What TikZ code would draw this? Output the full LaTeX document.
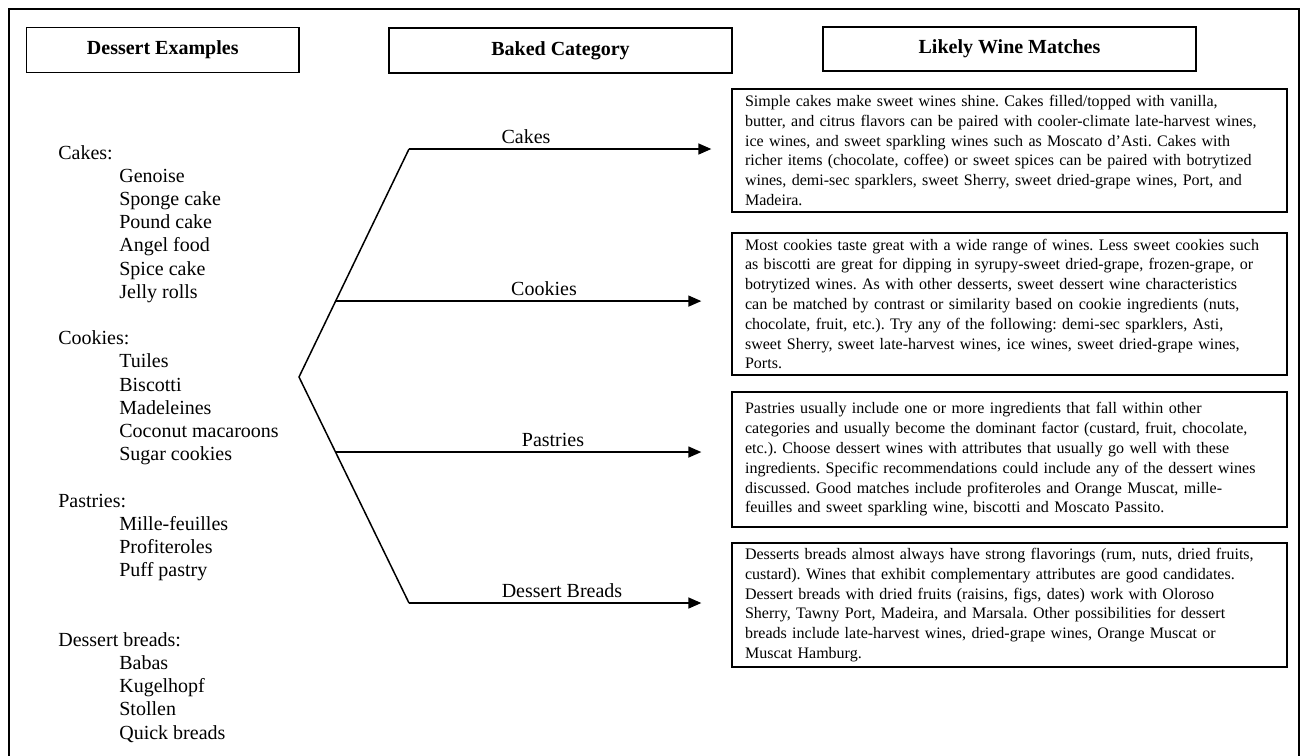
\documentclass[tikz,border=0pt]{standalone}
\usepackage{fontspec}
\setmainfont{Liberation Serif}
\usetikzlibrary{arrows.meta,calc}
\frenchspacing

\begin{document}
\begin{tikzpicture}[x=0.02cm, y=-0.02cm,
    hdr/.style={draw, line width=0.03cm, minimum height=0.9cm, inner sep=0pt,
        font=\fontsize{11.38pt}{13pt}\selectfont\bfseries},
    winebox/.style={draw, line width=0.03cm, minimum width=11.1cm, text width=10.58cm,
        inner xsep=0.26cm, inner ysep=0pt, align=left,
        font=\fontsize{9.12pt}{11.27pt}\selectfont},
    listtxt/.style={anchor=base west, inner sep=0pt, font=\fontsize{11.38pt}{13pt}\selectfont},
    catlabel/.style={above, inner sep=0.1cm, font=\fontsize{11.38pt}{13pt}\selectfont},
    arr/.style={line width=0.03cm, -{Triangle[length=0.26cm, width=0.22cm]}}]

    \useasboundingbox (0,0) rectangle (1304,755);

    % outer frame, open at the bottom edge
    \draw[line width=0.03cm] (9,760) -- (9,9) -- (1299,9) -- (1299,760);

    % column headings
    \node[hdr, minimum width=5.45cm] (hdrDessert) at (162.75,50) {Dessert Examples};
    \node[hdr, minimum width=6.86cm] (hdrCategory) at (560.5,50.5) {Baked Category};
    \node[hdr, minimum width=7.46cm, minimum height=0.88cm] (hdrWine) at (1009.5,49) {Likely Wine Matches};

    % dessert examples
    \node[listtxt] (grpCakes) at (58,159) {Cakes:};
    \foreach \dish [count=\k from 1] in {Genoise, Sponge cake, Pound cake, Angel food, Spice cake, Jelly rolls}
        \node[listtxt] (cake\k) at (119,159+23.2*\k) {\dish};

    \node[listtxt] (grpCookies) at (58,159+23.2*8) {Cookies:};
    \foreach \dish [count=\k from 9] in {Tuiles, Biscotti, Madeleines, Coconut macaroons, Sugar cookies}
        \node[listtxt] (cookie\k) at (119,159+23.2*\k) {\dish};

    \node[listtxt] (grpPastries) at (58,159+23.2*15) {Pastries:};
    \foreach \dish [count=\k from 16] in {Mille-feuilles, Profiteroles, Puff pastry}
        \node[listtxt] (pastry\k) at (119,159+23.2*\k) {\dish};

    \node[listtxt] (grpBreads) at (58,159+23.2*21) {Dessert breads:};
    \foreach \dish [count=\k from 22] in {Babas, Kugelhopf, Stollen, Quick breads}
        \node[listtxt] (bread\k) at (119,159+23.2*\k) {\dish};

    % wine matches
    \node[winebox, minimum height=2.46cm] (boxCakes) at (1009.5,150.5) {Simple cakes make sweet wines shine. Cakes filled/topped with vanilla,\\
        butter, and citrus flavors can be paired with cooler-climate late-harvest wines,\\
        ice wines, and sweet sparkling wines such as Moscato d’Asti. Cakes with\\
        richer items (chocolate, coffee) or sweet spices can be paired with botrytized\\
        wines, demi-sec sparklers, sweet Sherry, sweet dried-grape wines, Port, and\\
        Madeira.};
    \node[winebox, minimum height=2.84cm] (boxCookies) at (1009.5,304) {Most cookies taste great with a wide range of wines. Less sweet cookies such\\
        as biscotti are great for dipping in syrupy-sweet dried-grape, frozen-grape, or\\
        botrytized wines. As with other desserts, sweet dessert wine characteristics\\
        can be matched by contrast or similarity based on cookie ingredients (nuts,\\
        chocolate, fruit, etc.). Try any of the following: demi-sec sparklers, Asti,\\
        sweet Sherry, sweet late-harvest wines, ice wines, sweet dried-grape wines,\\
        Ports.};
    \node[winebox, minimum height=2.7cm] (boxPastries) at (1009.5,459.5) {Pastries usually include one or more ingredients that fall within other\\
        categories and usually become the dominant factor (custard, fruit, chocolate,\\
        etc.). Choose dessert wines with attributes that usually go well with these\\
        ingredients. Specific recommendations could include any of the dessert wines\\
        discussed. Good matches include profiteroles and Orange Muscat, mille-\\
        feuilles and sweet sparkling wine, biscotti and Moscato Passito.};
    \node[winebox, minimum height=2.48cm] (boxBreads) at (1009.5,605) {Desserts breads almost always have strong flavorings (rum, nuts, dried fruits,\\
        custard). Wines that exhibit complementary attributes are good candidates.\\
        Dessert breads with dried fruits (raisins, figs, dates) work with Oloroso\\
        Sherry, Tawny Port, Madeira, and Marsala. Other possibilities for dessert\\
        breads include late-harvest wines, dried-grape wines, Orange Muscat or\\
        Muscat Hamburg.};

    % fan of baked categories
    \coordinate (apex) at (299,377);
    \coordinate (fanTop) at (409,149);
    \coordinate (fanBot) at (409,603);
    \coordinate (fanCookies) at ($(apex)!0.333!(fanTop)$);
    \coordinate (fanPastries) at ($(apex)!0.332!(fanBot)$);
    \draw[line width=0.03cm] (fanTop) -- (apex) -- (fanBot);

    \draw[arr, shorten >=0.4cm] (fanTop) -- (fanTop -| boxCakes.west);
    \draw[arr, shorten >=0.6cm] (fanCookies) -- (fanCookies -| boxCookies.west);
    \draw[arr, shorten >=0.6cm] (fanPastries) -- (fanPastries -| boxPastries.west);
    \draw[arr, shorten >=0.6cm] (fanBot) -- (fanBot -| boxBreads.west);

    \node[catlabel] (lblCakes) at (526,149) {Cakes};
    \node[catlabel] (lblCookies) at (544,301) {Cookies};
    \node[catlabel] (lblPastries) at (553,452) {Pastries};
    \node[catlabel] (lblBreads) at (562,603) {Dessert Breads};
\end{tikzpicture}
\end{document}
